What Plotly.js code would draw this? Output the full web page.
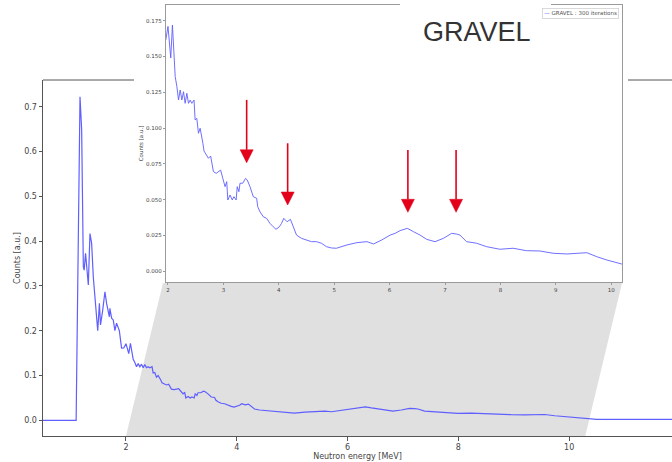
<!DOCTYPE html>
<html>
<head>
<meta charset="utf-8">
<script src="https://cdn.plot.ly/plotly-3.0.1.min.js"></script>
<style>html,body{margin:0;padding:0;background:#fff;}#chart{width:672px;height:462px;}</style>
</head>
<body>
<div id="chart"></div>
<script>
// ---- data ----
const energy = [0.50, 1.10, 1.17, 1.20, 1.23, 1.245, 1.27, 1.30, 1.32, 1.35, 1.38, 1.41, 1.44, 1.47, 1.49, 1.52, 1.54, 1.58, 1.62, 1.65, 1.70, 1.71, 1.74, 1.77, 1.80, 1.83, 1.88, 1.92,
  1.96, 2.00, 2.02, 2.05, 2.08, 2.11, 2.13, 2.16, 2.19, 2.22, 2.25, 2.28, 2.31, 2.34, 2.37, 2.40, 2.43, 2.47, 2.49, 2.52, 2.55, 2.58, 2.60, 2.63, 2.65, 2.69, 2.73, 2.77,
  2.82, 2.87, 2.91, 2.95, 2.99, 3.03, 3.06, 3.08, 3.12, 3.16, 3.19, 3.23, 3.25, 3.28, 3.30, 3.35, 3.40, 3.43, 3.48, 3.54, 3.60, 3.62, 3.66, 3.72, 3.78, 3.84, 3.90, 3.95,
  4.01, 4.05, 4.09, 4.15, 4.21, 4.26, 4.32, 4.41, 4.50, 4.59, 4.68, 4.77, 4.86, 4.95, 5.04, 5.23, 5.41, 5.59, 5.71, 5.86, 6.01, 6.10, 6.19, 6.32, 6.43, 6.55, 6.67, 6.82,
  6.97, 7.12, 7.21, 7.27, 7.39, 7.57, 7.75, 7.99, 8.23, 8.47, 8.71, 8.95, 9.20, 9.44, 9.56, 9.74, 9.92, 10.19, 10.30, 10.50, 11.90];
const counts = [0, 0, 0.722, 0.648, 0.343, 0.335, 0.373, 0.335, 0.302, 0.417, 0.395, 0.320, 0.276, 0.224, 0.200, 0.261, 0.213, 0.246, 0.287, 0.261, 0.231, 0.250, 0.228, 0.224, 0.200, 0.217, 0.200, 0.161,
  0.1615, 0.171, 0.159, 0.149, 0.172, 0.148, 0.136, 0.129, 0.1196, 0.1266, 0.1196, 0.1254, 0.1173, 0.1243, 0.1173, 0.1196, 0.1173, 0.1196, 0.1057, 0.1068, 0.0964, 0.0999, 0.0964, 0.0894, 0.0840, 0.0812, 0.0789, 0.0805,
  0.0696, 0.0684, 0.0696, 0.0707, 0.0649, 0.0591, 0.0626, 0.0498, 0.0533, 0.0498, 0.0521, 0.0498, 0.0591, 0.0556, 0.0615, 0.0615, 0.0649, 0.0638, 0.0591, 0.0521, 0.0510, 0.0451, 0.0416, 0.0381, 0.0370, 0.0335, 0.0311, 0.0293,
  0.0311, 0.0335, 0.0370, 0.0346, 0.0363, 0.0311, 0.0253, 0.0230, 0.0219, 0.0207, 0.0207, 0.0196, 0.0172, 0.0163, 0.0161, 0.0184, 0.0200, 0.0207, 0.0191, 0.0219, 0.0253, 0.0265, 0.0284, 0.0300, 0.0277, 0.0253, 0.0223, 0.0207,
  0.0230, 0.0265, 0.0260, 0.0253, 0.0207, 0.0196, 0.0172, 0.0154, 0.0161, 0.0144, 0.0142, 0.0126, 0.0121, 0.0126, 0.0130, 0.0102, 0.0079, 0.0051, 0.0040, 0.0020, 0.0020];

const mainXTicks = [2, 4, 6, 8, 10];
const mainYTicks = [0, 0.1, 0.2, 0.3, 0.4, 0.5, 0.6, 0.7];
const insetXTicks = [2, 3, 4, 5, 6, 7, 8, 9, 10];
const insetYTicks = [0, 0.025, 0.05, 0.075, 0.1, 0.125, 0.15, 0.175];

// marked peaks (red arrows in the inset)
const peakEnergy = [3.42, 4.16, 6.33, 7.20];
const arrowTip   = [0.0758, 0.0463, 0.0412, 0.0412];
const arrowTail  = [0.1197, 0.0894, 0.0847, 0.0847];

const zoomSpan = [2, 10.29];          // main-axis span shown in the inset
const seriesName = 'GRAVEL : 300 iterations';
const titleText = 'GRAVEL';

// ---- layout geometry ----
const W = 672, H = 462;
const M = {l: 43, r: 0, t: 5, b: 26};
const PW = W - M.l - M.r, PH = H - M.t - M.b;
const px2x = p => (p - M.l) / PW;
const py2y = p => (H - M.b - p) / PH;

const mainXR = [0.502, 11.856];
const mainYR = [-0.035, 0.7596];
const insetXR = [1.964, 10.195];
const insetYR = [-0.00747, 0.18596];
const insetDomX = [px2x(166), px2x(622)];
const insetDomY = [py2y(282), py2y(5)];
const mainDomY = [0, py2y(80)];

const mainX2paper = e => (e - mainXR[0]) / (mainXR[1] - mainXR[0]);

const blue = '#5f5fff';
const red = '#e3001b';
const axisCol = '#555';
const insetCol = '#9a9a9a';
const txt = '#444';
const fam = 'DejaVu Sans, sans-serif';

const shapes = [];
// zoom connector (grey band)
const gp = [
  [mainX2paper(zoomSpan[0]), 0],
  [mainX2paper(zoomSpan[1]), 0],
  [px2x(622), py2y(283)],
  [px2x(163), py2y(283)]
];
shapes.push({type: 'path', xref: 'paper', yref: 'paper', layer: 'below',
  path: 'M' + gp.map(p => p[0] + ',' + p[1]).join('L') + 'Z',
  fillcolor: '#e0e0e0', line: {width: 0}});
// main top spine (interrupted by the inset picture)
shapes.push({type: 'line', xref: 'paper', yref: 'paper', x0: 0, x1: px2x(134), y0: mainDomY[1], y1: mainDomY[1], line: {color: axisCol, width: 1}});
shapes.push({type: 'line', xref: 'paper', yref: 'paper', x0: px2x(628), x1: 1, y0: mainDomY[1], y1: mainDomY[1], line: {color: axisCol, width: 1}});
// white box behind the title
shapes.push({type: 'rect', xref: 'paper', yref: 'paper', layer: 'above',
  x0: px2x(400), x1: px2x(551), y0: py2y(22), y1: py2y(-2), fillcolor: '#ffffff', line: {width: 0}});

// red arrows
const yPerPx = (insetYR[1] - insetYR[0]) / 277;
const xPerPx = (insetXR[1] - insetXR[0]) / 456;
const headLen = 13 * yPerPx, headHalf = 6.5 * xPerPx;
peakEnergy.forEach((e, i) => {
  const tip = arrowTip[i], base = tip + headLen;
  shapes.push({type: 'line', xref: 'x2', yref: 'y2', x0: e, x1: e, y0: arrowTail[i], y1: base,
    line: {color: red, width: 1.6}});
  shapes.push({type: 'path', xref: 'x2', yref: 'y2',
    path: `M${e - headHalf},${base}L${e + headHalf},${base}L${e},${tip}Z`,
    fillcolor: red, line: {color: red, width: 0.5}});
});

const traces = [
  {x: energy, y: counts, xaxis: 'x', yaxis: 'y', mode: 'lines', name: seriesName,
   line: {color: blue, width: 1.2}, showlegend: false, hoverinfo: 'skip'},
  {x: energy, y: counts, xaxis: 'x2', yaxis: 'y2', mode: 'lines', name: seriesName,
   line: {color: blue, width: 0.9}, showlegend: false, hoverinfo: 'skip'}
];

const layout = {
  width: W, height: H,
  margin: M,
  paper_bgcolor: '#ffffff', plot_bgcolor: '#ffffff',
  showlegend: false,
  font: {family: fam, color: txt},
  title: {text: titleText, font: {family: 'Liberation Sans, Arial, sans-serif', size: 27, color: '#333'},
    xref: 'container', yref: 'container', x: 476.7 / W, y: 1 - 32 / H, xanchor: 'center', yanchor: 'middle'},
  xaxis: {domain: [0, 1], anchor: 'y', range: mainXR, tickvals: mainXTicks, ticktext: mainXTicks.map(String),
    ticks: 'outside', ticklen: 3.5, tickcolor: axisCol, showline: true, linecolor: axisCol, linewidth: 1,
    showgrid: false, zeroline: false, tickfont: {size: 8, color: txt, family: fam},
    title: {text: 'Neutron energy [MeV]', font: {size: 8, color: txt, family: fam}, standoff: 1}},
  yaxis: {domain: mainDomY, anchor: 'x', range: mainYR, tickvals: mainYTicks, tickformat: '.1f',
    ticks: 'outside', ticklen: 3.5, tickcolor: axisCol, showline: true, linecolor: axisCol, linewidth: 1,
    showgrid: false, zeroline: false, tickfont: {size: 8, color: txt, family: fam},
    title: {text: 'Counts [a.u.]', font: {size: 8, color: txt, family: fam}, standoff: 2}},
  xaxis2: {domain: insetDomX, anchor: 'y2', range: insetXR, tickvals: insetXTicks,
    ticks: 'outside', ticklen: 2, tickcolor: insetCol, showline: true, mirror: true, linecolor: insetCol, linewidth: 1.2,
    showgrid: false, zeroline: false, tickfont: {size: 5.5, color: txt, family: fam}},
  yaxis2: {domain: insetDomY, anchor: 'x2', range: insetYR, tickvals: insetYTicks, tickformat: '.3f',
    ticks: 'outside', ticklen: 2, tickcolor: insetCol, showline: true, mirror: true, linecolor: insetCol, linewidth: 1.2,
    showgrid: false, zeroline: false, tickfont: {size: 5.5, color: txt, family: fam},
    title: {text: 'Counts [a.u.]', font: {size: 5.5, color: txt, family: fam}, standoff: 2}},
  shapes: shapes,
  annotations: [
    {xref: 'paper', yref: 'paper', x: px2x(619), y: py2y(8), xanchor: 'right', yanchor: 'top',
     text: '<span style="color:' + blue + '">—</span> ' + seriesName, showarrow: false,
     font: {size: 5.5, color: '#555', family: fam}, bgcolor: '#ffffff', bordercolor: '#d0d0d0', borderwidth: 0.8, borderpad: 1.5}
  ]
};

Plotly.newPlot('chart', traces, layout, {displayModeBar: false, staticPlot: true});
</script>
</body>
</html>
